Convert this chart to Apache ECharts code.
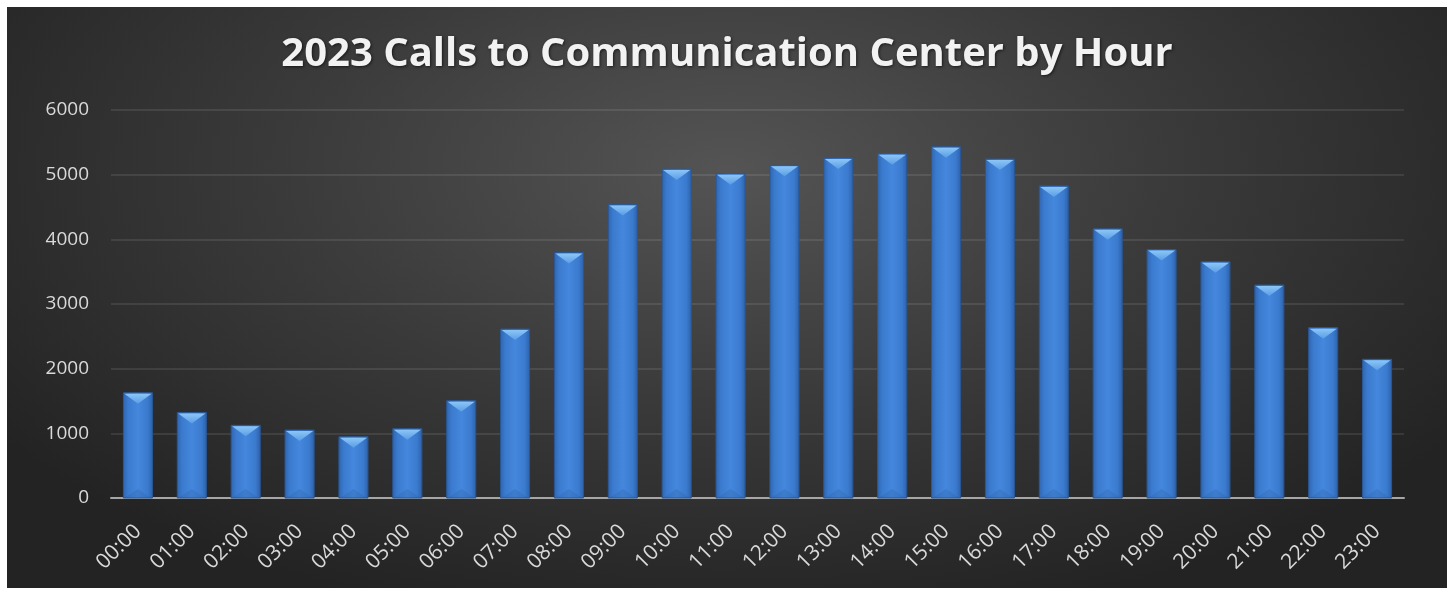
<!DOCTYPE html>
<html>
<head>
<meta charset="utf-8">
<script src="https://cdn.jsdelivr.net/npm/echarts@6/dist/echarts.min.js"></script>
<style>
  html, body { margin: 0; padding: 0; background: #ffffff; }
  #frame {
    position: absolute; left: 7px; top: 7px; width: 1440px; height: 581px;
    background: radial-gradient(ellipse 62% 80% at 50% 28%, #545454 0%, #3a3a3a 50%, #232323 100%);
  }
  #chart { width: 1440px; height: 581px; }
</style>
</head>
<body>
<div id="frame"><div id="chart"></div></div>
<script>
const titleText = '2023 Calls to Communication Center by Hour';
const hours = ['00:00','01:00','02:00','03:00','04:00','05:00','06:00','07:00','08:00','09:00','10:00','11:00',
               '12:00','13:00','14:00','15:00','16:00','17:00','18:00','19:00','20:00','21:00','22:00','23:00'];
const calls = [1628, 1322, 1124, 1051, 948, 1072, 1505, 2613, 3795, 4540, 5087, 5015,
               5144, 5257, 5324, 5432, 5242, 4826, 4162, 3842, 3652, 3294, 2634, 2145];
const yMin = 0, yMax = 6000, yStep = 1000;

const chart = echarts.init(document.getElementById('chart'), null, { renderer: 'canvas' });

function renderBar(params, api) {
  const idx = api.value(0);
  const v = api.value(1);
  const top = api.coord([idx, v]);
  const base = api.coord([idx, 0]);
  const bw = api.size([1, 0])[0] * 0.54;
  const left = top[0] - bw / 2;
  const h = base[1] - top[1];
  const bev = Math.min(11, h / 2);
  return {
    type: 'group',
    children: [
      {
        type: 'rect',
        shape: { x: left, y: top[1], width: bw, height: h },
        style: {
          fill: { type: 'linear', x: 0, y: 0, x2: 1, y2: 0, colorStops: [
            { offset: 0, color: '#2f64ad' },
            { offset: 0.18, color: '#3b7bcf' },
            { offset: 0.5, color: '#4487dc' },
            { offset: 0.82, color: '#3b7bcf' },
            { offset: 1, color: '#2d60a8' }
          ]},
          stroke: '#2a5896', lineWidth: 1
        }
      },
      {
        type: 'polygon',
        shape: { points: [[left + 1, top[1] + 1], [left + bw - 1, top[1] + 1], [left + bw / 2, top[1] + bev]] },
        style: {
          fill: { type: 'linear', x: 0, y: 0, x2: 0, y2: 1, colorStops: [
            { offset: 0, color: '#8cc6f7' },
            { offset: 1, color: '#5a9de6' }
          ]}
        }
      },
      {
        type: 'polygon',
        shape: { points: [[left + 1, base[1]], [left + bw - 1, base[1]], [left + bw / 2, base[1] - Math.min(9, h / 3)]] },
        style: { fill: 'rgba(40,85,150,0.22)' }
      }
    ]
  };
}

chart.setOption({
  backgroundColor: 'transparent',
  animation: false,
  title: {
    text: titleText,
    left: 'center',
    top: 28,
    padding: 0,
    textStyle: {
      fontFamily: 'Open Sans',
      fontWeight: 'bold',
      fontSize: 40,
      color: '#f2f2f2',
      textShadowColor: 'rgba(0,0,0,0.6)',
      textShadowBlur: 3,
      textShadowOffsetX: 1,
      textShadowOffsetY: 1
    }
  },
  grid: { left: 104, right: 43, top: 103, bottom: 90, containLabel: false },
  xAxis: {
    type: 'category',
    data: hours,
    axisLine: { show: true, lineStyle: { color: '#a6a6a6', width: 2 } },
    axisTick: { show: false },
    axisLabel: {
      rotate: 45,
      color: '#d9d9d9',
      fontFamily: 'Open Sans',
      fontSize: 21,
      margin: 30,
      interval: 0
    },
    splitLine: { show: false }
  },
  yAxis: {
    type: 'value',
    min: yMin, max: yMax, interval: yStep,
    axisLine: { show: false },
    axisTick: { show: false },
    axisLabel: {
      color: '#d9d9d9', fontFamily: 'Open Sans', fontSize: 19, margin: 22,
      formatter: (v) => String(v)
    },
    splitLine: { lineStyle: { color: 'rgba(255,255,255,0.12)', width: 1.5 } }
  },
  series: [{
    type: 'custom',
    renderItem: renderBar,
    encode: { x: 0, y: 1 },
    data: calls.map((v, i) => [i, v])
  }]
});
</script>
</body>
</html>
